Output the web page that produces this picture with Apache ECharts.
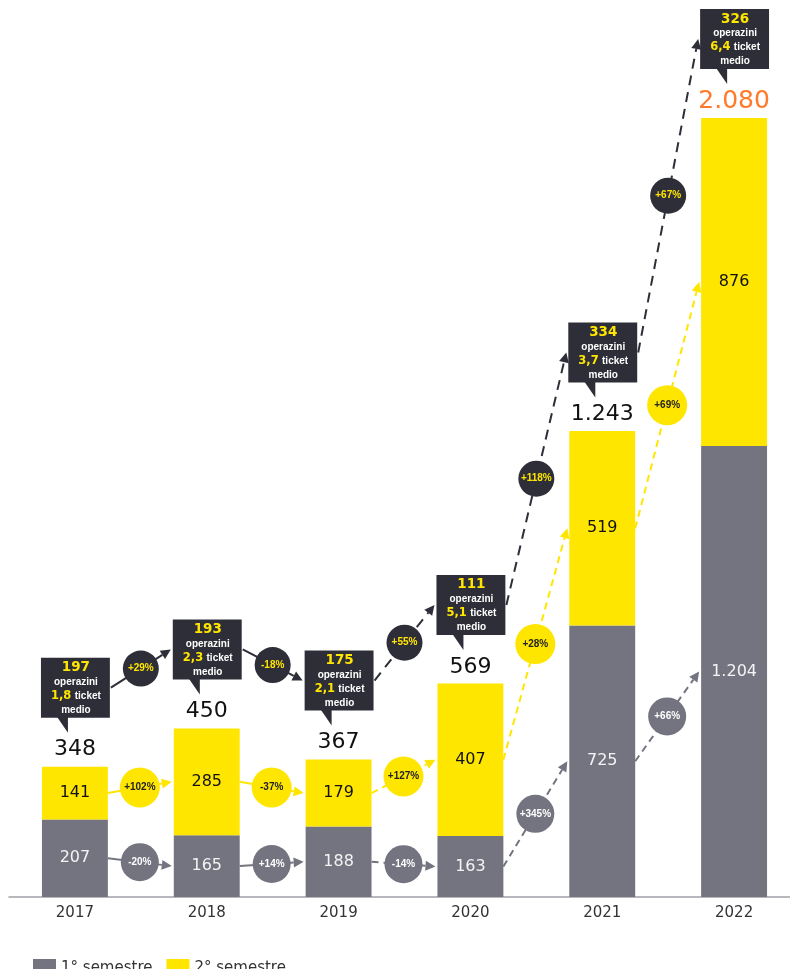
<!DOCTYPE html>
<html>
<head>
<meta charset="utf-8">
<title>Operazioni per semestre</title>
<style>
  html, body { margin: 0; padding: 0; background: #fff; }
  #chart { width: 790px; height: 969px; }
</style>
</head>
<body>
<div id="chart"></div>
<script src="https://cdn.jsdelivr.net/npm/echarts@6/dist/echarts.min.js"></script>
<script>
// dati
var years = ['2017', '2018', '2019', '2020', '2021', '2022'];
var firstHalf = [207, 165, 188, 163, 725, 1204];
var secondHalf = [141, 285, 179, 407, 519, 876];
var totals = [348, 450, 367, 569, 1243, 2080];
var deals = [197, 193, 175, 111, 334, 326];
var avgTicket = ['1,8', '2,3', '2,1', '5,1', '3,7', '6,4'];
var growthFirst = ['-20%', '+14%', '-14%', '+345%', '+66%'];
var growthSecond = ['+102%', '-37%', '+127%', '+28%', '+69%'];
var growthTotal = ['+29%', '-18%', '+55%', '+118%', '+67%'];

var GREY = '#747480', YELLOW = '#FFE600', DARK = '#2E2E38', ORANGE = '#FF7A2A';

function fmt(n) {
  return String(n).replace(/\B(?=(\d{3})+(?!\d))/g, '.');
}

// box scuro sopra ogni barra: geometria condivisa con le frecce
function boxOf(api, i) {
  var top = api.coord([i, totals[i]]);
  var half = api.size([1, 0])[0] * 0.25;
  var bh = 60;
  return { x: top[0] - half - 1, y: top[1] - 49 - bh, w: half * 2 + 3, h: bh, cx: top[0], top: top };
}

function renderCallout(params, api) {
  var i = api.value(0);
  var b = boxOf(api, i);
  var last = i === years.length - 1;
  return {
    type: 'group',
    children: [
      { type: 'rect', shape: { x: b.x, y: b.y, width: b.w, height: b.h }, style: { fill: DARK } },
      { type: 'polygon', shape: { points: [[b.x + 16, b.y + b.h - 1], [b.x + 27, b.y + b.h - 1], [b.x + 27, b.y + b.h + 15]] }, style: { fill: DARK } },
      {
        type: 'text', x: b.cx + 1, y: b.y + 31,
        style: {
          text: '{n|' + deals[i] + '}\n{o|operazini}\n{t|' + avgTicket[i] + '} {o|ticket}\n{o|medio}',
          align: 'center', verticalAlign: 'middle',
          rich: {
            n: { fill: YELLOW, fontFamily: 'DejaVu Sans', fontWeight: 'bold', fontSize: 13.5, lineHeight: 15, align: 'center' },
            o: { fill: '#fff', fontFamily: 'Liberation Sans', fontWeight: 'bold', fontSize: 10, lineHeight: 14, align: 'center' },
            t: { fill: YELLOW, fontFamily: 'DejaVu Sans', fontWeight: 'bold', fontSize: 11.5, lineHeight: 14, align: 'center' }
          }
        }
      },
      {
        type: 'text', x: b.cx, y: b.top[1] - 17,
        style: {
          text: fmt(totals[i]), align: 'center', verticalAlign: 'middle',
          fill: last ? ORANGE : '#111', fontFamily: 'DejaVu Sans',
          fontSize: last ? 25 : 22
        }
      }
    ]
  };
}

function arrowParts(p0, p1, color, dash, label, circleFill, textFill, r) {
  var dx = p1[0] - p0[0], dy = p1[1] - p0[1];
  var len = Math.sqrt(dx * dx + dy * dy), ux = dx / len, uy = dy / len;
  var hl = 10, hw = 5;
  var base = [p1[0] - ux * hl, p1[1] - uy * hl];
  var mid = [(p0[0] + p1[0]) / 2, (p0[1] + p1[1]) / 2];
  return [
    { type: 'line', shape: { x1: p0[0], y1: p0[1], x2: base[0], y2: base[1] }, style: { stroke: color, lineWidth: 2, lineDash: dash } },
    { type: 'polygon', shape: { points: [p1, [base[0] - uy * hw, base[1] + ux * hw], [base[0] + uy * hw, base[1] - ux * hw]] }, style: { fill: color } },
    { type: 'circle', shape: { cx: mid[0], cy: mid[1], r: r }, style: { fill: circleFill } },
    {
      type: 'text', x: mid[0], y: mid[1],
      style: { text: label, fill: textFill, fontFamily: 'Liberation Sans', fontWeight: 'bold', fontSize: 10, align: 'center', verticalAlign: 'middle' }
    }
  ];
}

function renderArrows(params, api) {
  var i = api.value(0);
  var half = api.size([1, 0])[0] * 0.25;
  var dashed = i >= 2;
  var xR = api.coord([i, 0])[0] + half;
  var xL = api.coord([i + 1, 0])[0] - half - 2;

  // 1° semestre
  var g0 = [xR, api.coord([i, firstHalf[i] / 2])[1]];
  var g1 = [xL, api.coord([i + 1, firstHalf[i + 1] / 2])[1]];
  // 2° semestre
  var y0 = [xR, api.coord([i, firstHalf[i] + secondHalf[i] / 2])[1]];
  var y1 = [xL, api.coord([i + 1, firstHalf[i + 1] + secondHalf[i + 1] / 2])[1]];
  // totale, tra i box
  var b0 = boxOf(api, i), b1 = boxOf(api, i + 1);
  var d0 = [b0.x + b0.w + 1, b0.y + b0.h / 2];
  var d1 = [b1.x - 2, b1.y + b1.h / 2];

  var children = []
    .concat(arrowParts(g0, g1, GREY, dashed ? [7, 5] : null, growthFirst[i], GREY, '#fff', 19))
    .concat(arrowParts(y0, y1, YELLOW, dashed ? [7, 5] : null, growthSecond[i], YELLOW, '#222', 20))
    .concat(arrowParts(d0, d1, DARK, dashed ? [10, 7] : null, growthTotal[i], DARK, YELLOW, 18));
  return { type: 'group', children: children };
}

var chart = echarts.init(document.getElementById('chart'));
chart.setOption({
  animation: false,
  grid: { left: 9, width: 791, top: 118, bottom: 72, outerBoundsMode: 'none', containLabel: false },
  legend: {
    left: 28, top: 954,
    itemWidth: 23, itemHeight: 18, itemGap: 14,
    icon: 'rect',
    textStyle: { fontFamily: 'DejaVu Sans', fontSize: 15, color: '#333' },
    data: ['1° semestre', '2° semestre']
  },
  xAxis: {
    type: 'category',
    data: years,
    axisLine: { lineStyle: { color: '#a0a0a8', width: 1.5 } },
    axisTick: { show: false },
    axisLabel: { fontFamily: 'DejaVu Sans', fontSize: 15, color: '#333', margin: 9 }
  },
  yAxis: { type: 'value', min: 0, max: 2080, show: false, splitLine: { show: false } },
  series: [
    {
      name: '1° semestre', type: 'bar', stack: 'tot', barWidth: '50%',
      itemStyle: { color: GREY },
      label: { show: true, position: 'inside', color: '#f4f4f4', fontFamily: 'DejaVu Sans', fontSize: 16, formatter: function (p) { return fmt(p.value); } },
      data: firstHalf
    },
    {
      name: '2° semestre', type: 'bar', stack: 'tot', barWidth: '50%',
      itemStyle: { color: YELLOW },
      label: { show: true, position: 'inside', color: '#111', fontFamily: 'DejaVu Sans', fontSize: 16, formatter: function (p) { return fmt(p.value); } },
      data: secondHalf
    },
    {
      type: 'custom', silent: true, clip: false, z: 5,
      renderItem: renderArrows,
      encode: { x: 0, y: 1 },
      data: growthTotal.map(function (g, i) { return [i, 0]; })
    },
    {
      type: 'custom', silent: true, clip: false, z: 6,
      renderItem: renderCallout,
      encode: { x: 0, y: 1 },
      data: totals.map(function (t, i) { return [i, t]; })
    }
  ]
});
</script>
</body>
</html>
